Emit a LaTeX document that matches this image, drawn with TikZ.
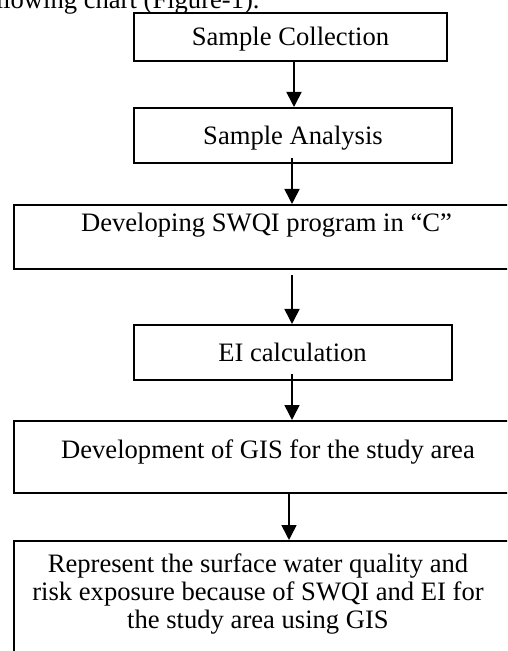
\documentclass[tikz,border=0pt]{standalone}
\usepackage{fontspec}
\setmainfont{Liberation Serif}
\usetikzlibrary{arrows.meta,fit,calc}
\begin{document}
\begin{tikzpicture}[x=0.5pt,y=-0.5pt,
  box/.style={draw=black,line width=1pt,inner sep=0pt,rectangle},
  txt/.style={inner sep=0pt,anchor=base,font=\fontsize{13.3}{14}\selectfont},
  arr/.style={draw=black,line width=0.8pt,-{Triangle[width=7.5pt,length=7.5pt]}}]
\fill[white] (0,0) rectangle (507,651);
\useasboundingbox (0,0) rectangle (507,651);
\clip (0,0) rectangle (507,651);
% fragment of the surrounding text
\node[txt,anchor=base east] (intro) at (260,9) {following chart (Figure-1).};
% boxes
\node[box,fit={(134,13) (447,61)}] (b1) {};
\node[box,fit={(134,108) (452,163)}] (b2) {};
\node[box,fit={(14,205) (519,269)}] (b3) {};
\node[box,fit={(134,325) (452,380)}] (b4) {};
\node[box,fit={(14,421) (522,493)}] (b5) {};
\node[box,fit={(14,541) (520,700)}] (b6) {};
% texts
\node[txt] (t1) at (290.5,45.5) {Sample Collection};
\node[txt] (t2) at (293,145) {Sample Analysis};
\node[txt] (t3) at (266.5,232) {Developing SWQI program in “C”};
\node[txt] (t4) at (292.5,361) {EI calculation};
\node[txt] (t5) at (268,458) {Development of GIS for the study area};
\node[txt,align=center] (t6) at (258,628) {Represent the surface water quality and\\risk exposure because of SWQI and EI for\\the study area using GIS};
% arrow positions
\coordinate (x1) at (294,0);
\coordinate (x2) at (292,0);
\coordinate (x3) at (292,0);
\coordinate (x4) at (292,0);
\coordinate (x5) at (289,0);
% connectors
\draw[arr] (b1.south -| x1) -- (b2.north -| x1);
\draw[arr] ($(b2.south -| x2)+(0,-6)$) -- (b3.north -| x2);
\draw[arr] ($(b3.south -| x3)+(0,5)$) -- (b4.north -| x3);
\draw[arr] ($(b4.south -| x4)+(0,-7)$) -- (b5.north -| x4);
\draw[arr] (b5.south -| x5) -- (b6.north -| x5);
\end{tikzpicture}
\end{document}
